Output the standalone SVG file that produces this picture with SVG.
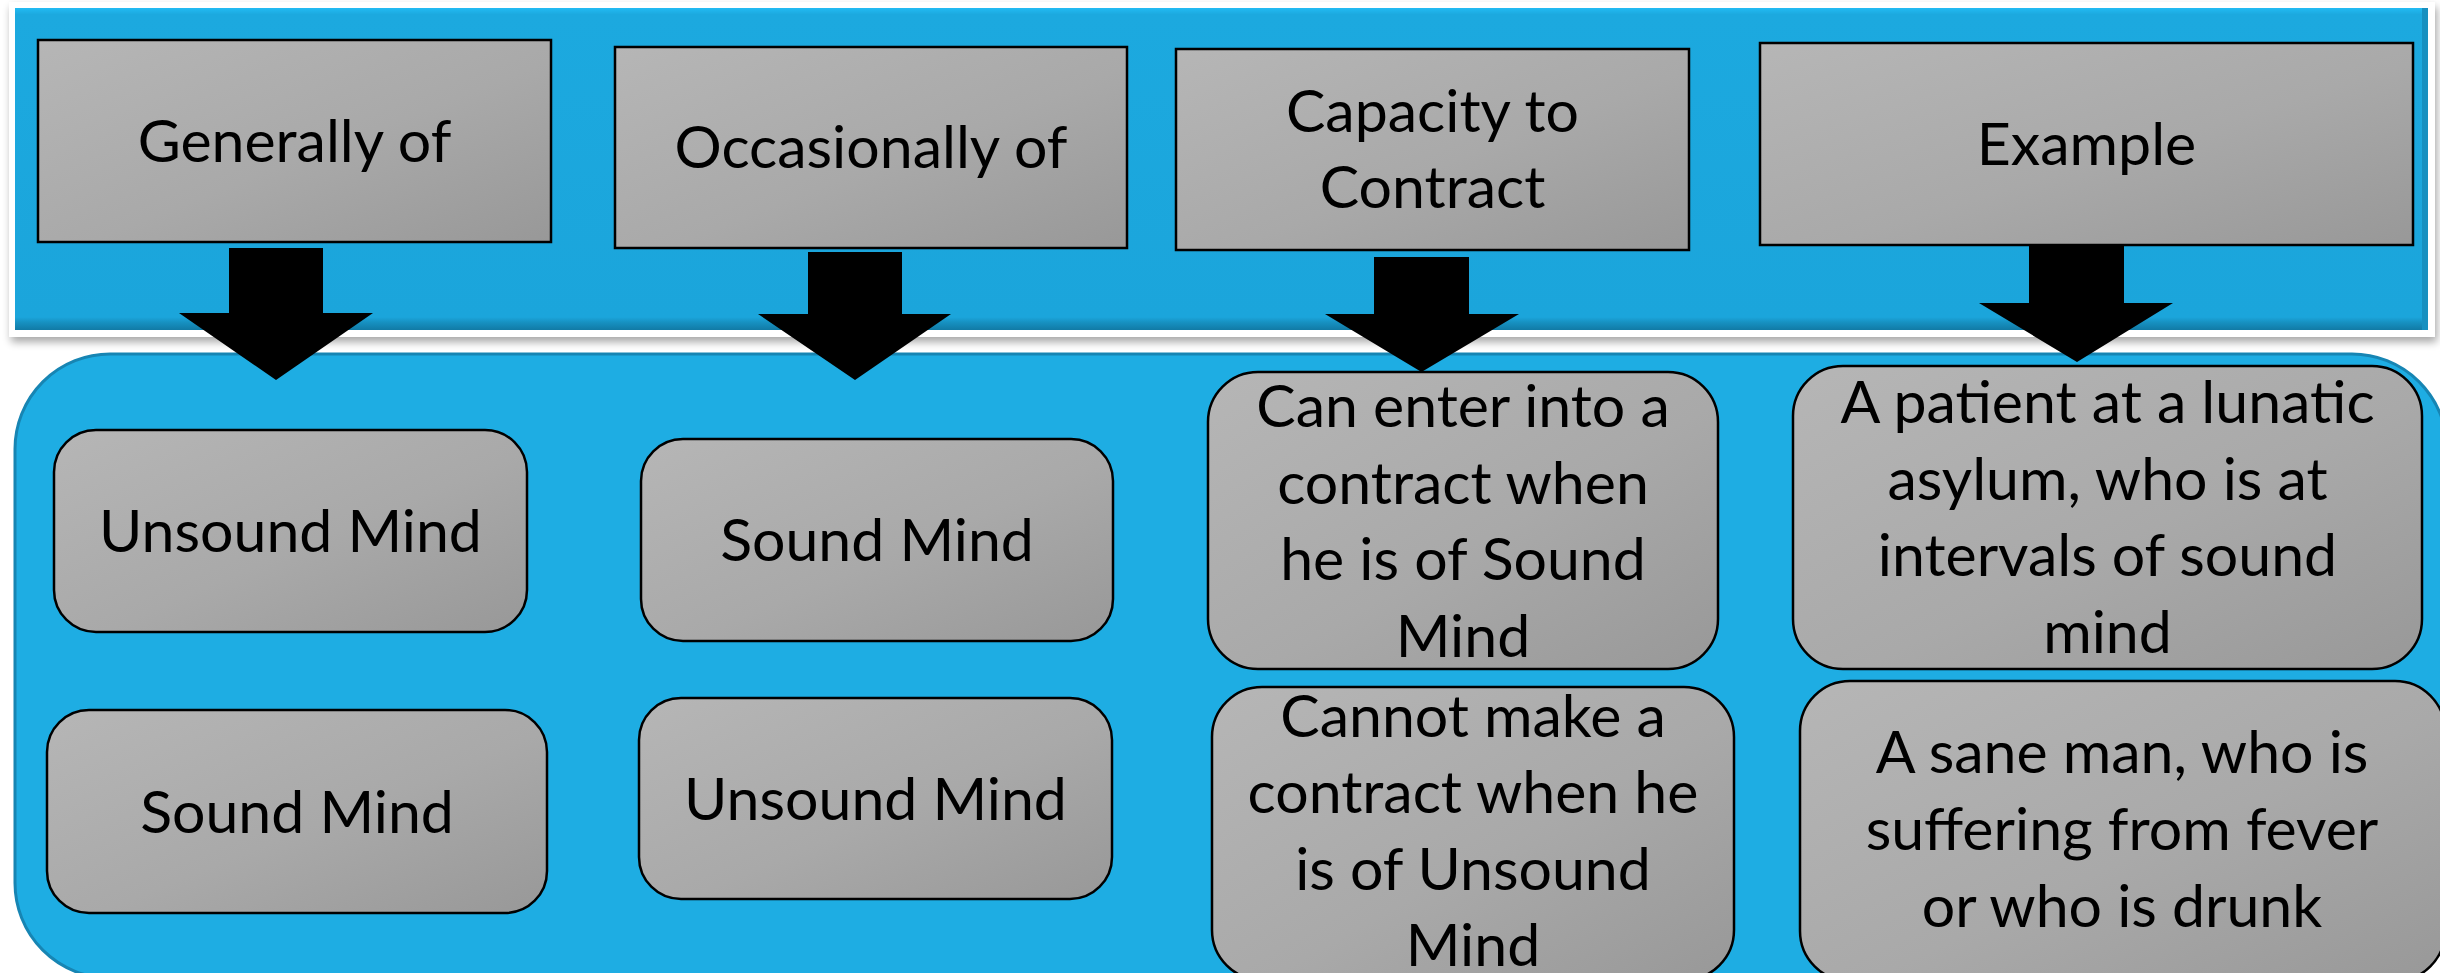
<svg xmlns="http://www.w3.org/2000/svg" width="2440" height="973" viewBox="0 0 2440 973">
<defs>
<linearGradient id="gbox" x1="0" y1="0" x2="1" y2="1">
<stop offset="0" stop-color="#b6b6b6"/>
<stop offset="0.55" stop-color="#a9a9a9"/>
<stop offset="1" stop-color="#989898"/>
</linearGradient>
<linearGradient id="gtop" x1="0" y1="8" x2="0" y2="330" gradientUnits="userSpaceOnUse">
<stop offset="0" stop-color="#22bbf3"/>
<stop offset="0.02" stop-color="#1ca9df"/>
<stop offset="0.96" stop-color="#1ba5db"/>
<stop offset="0.975" stop-color="#1792c3"/>
<stop offset="1" stop-color="#117aa5"/>
</linearGradient>
<filter id="shadow" x="-5%" y="-10%" width="110%" height="125%">
<feGaussianBlur in="SourceAlpha" stdDeviation="4"/>
<feOffset dx="2" dy="5" result="b"/>
<feComponentTransfer><feFuncA type="linear" slope="0.35"/></feComponentTransfer>
<feMerge><feMergeNode/><feMergeNode in="SourceGraphic"/></feMerge>
</filter>
<style>
.box{fill:url(#gbox);stroke:#000;stroke-width:2.5}
.t{font-family:Lato,"Liberation Sans",sans-serif;font-size:59px;fill:#000;text-anchor:middle}
.arrow{fill:#000}
</style>
</defs>
<rect x="0" y="0" width="2440" height="973" fill="#ffffff"/>
<g id="top-panel">
<rect x="9" y="2" width="2426" height="335" fill="#ffffff" filter="url(#shadow)"/>
<rect x="15" y="8" width="2413" height="322" fill="url(#gtop)"/>
<rect x="2422" y="8" width="6" height="322" fill="#1790c0"/>
</g>
<g id="bottom-panel">
<rect x="15" y="354" width="2432" height="624" rx="95" ry="95" fill="#1eade3" stroke="#1785b3" stroke-width="3"/>
</g>
<g id="node-generally">
<rect class="box" x="38" y="40" width="513" height="202"/>
<text class="t" x="294.5" y="162">Generally of</text>
</g>
<g id="node-occasionally">
<rect class="box" x="615" y="47" width="512" height="201"/>
<text class="t" x="871" y="168">Occasionally of</text>
</g>
<g id="node-capacity">
<rect class="box" x="1176" y="49" width="513" height="201"/>
<text class="t" x="1432.5" y="132">Capacity to</text>
<text class="t" x="1432.5" y="208">Contract</text>
</g>
<g id="node-example">
<rect class="box" x="1760" y="43" width="653" height="202"/>
<text class="t" x="2086.5" y="165">Example</text>
</g>
<g id="node-g-unsound">
<rect class="box" x="54" y="430" width="473" height="202" rx="42" ry="42"/>
<text class="t" x="290.5" y="552">Unsound Mind</text>
</g>
<g id="node-g-sound">
<rect class="box" x="47" y="710" width="500" height="203" rx="42" ry="42"/>
<text class="t" x="297" y="833">Sound Mind</text>
</g>
<g id="node-o-sound">
<rect class="box" x="641" y="439" width="472" height="202" rx="42" ry="42"/>
<text class="t" x="877" y="561">Sound Mind</text>
</g>
<g id="node-o-unsound">
<rect class="box" x="639" y="698" width="473" height="201" rx="42" ry="42"/>
<text class="t" x="875.5" y="820">Unsound Mind</text>
</g>
<g id="node-can-enter">
<rect class="box" x="1208" y="372" width="510" height="297" rx="50" ry="50"/>
<text class="t" x="1463" y="427">Can enter into a</text>
<text class="t" x="1463" y="504">contract when</text>
<text class="t" x="1463" y="580">he is of Sound</text>
<text class="t" x="1463" y="657">Mind</text>
</g>
<g id="node-cannot">
<rect class="box" x="1212" y="687" width="522" height="293" rx="50" ry="50"/>
<text class="t" x="1473" y="737">Cannot make a</text>
<text class="t" x="1473" y="813">contract when he</text>
<text class="t" x="1473" y="890">is of Unsound</text>
<text class="t" x="1473" y="966">Mind</text>
</g>
<g id="node-patient">
<rect class="box" x="1793" y="366" width="629" height="303" rx="50" ry="50"/>
<text class="t" x="2107.5" y="423">A patient at a lunatic</text>
<text class="t" x="2107.5" y="500">asylum, who is at</text>
<text class="t" x="2107.5" y="576">intervals of sound</text>
<text class="t" x="2107.5" y="653">mind</text>
</g>
<g id="node-sane">
<rect class="box" x="1800" y="681" width="645" height="300" rx="50" ry="50"/>
<text class="t" x="2122" y="773">A sane man, who is</text>
<text class="t" x="2122" y="850">suffering from fever</text>
<text class="t" x="2122" y="927">or who is drunk</text>
</g>
<g id="connectors">
<polygon class="arrow" points="229,248 323,248 323,313 373,313 276,380 179,313 229,313"/>
<polygon class="arrow" points="808,252 902,252 902,314 951,314 855,380 758,314 808,314"/>
<polygon class="arrow" points="1374,257 1469,257 1469,314 1519,314 1421.5,372 1325,314 1374,314"/>
<polygon class="arrow" points="2029,246 2124,246 2124,303 2173,303 2077,362 1979,303 2029,303"/>
</g>
</svg>
